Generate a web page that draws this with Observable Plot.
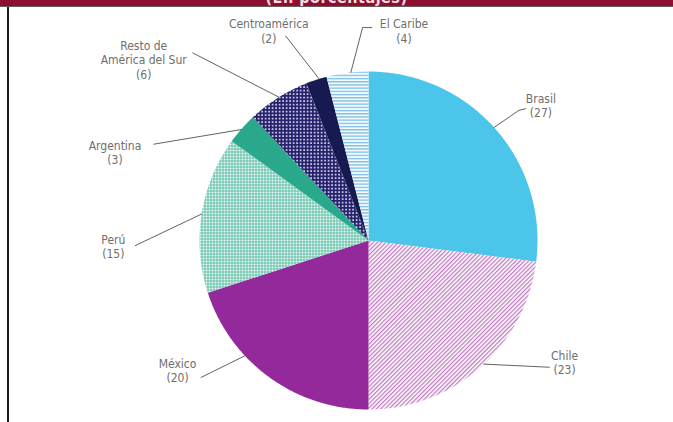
<!DOCTYPE html>
<html>
<head>
<meta charset="utf-8">
<script src="https://cdn.jsdelivr.net/npm/d3@7"></script>
<script src="https://cdn.jsdelivr.net/npm/@observablehq/plot@0.6"></script>
<style>
  html, body { margin: 0; padding: 0; background: #fff; }
  body { width: 673px; height: 422px; overflow: hidden; position: relative; }
  #band { height: 7px; background: #8d0f30; overflow: hidden; position: relative; border-bottom: 1px solid #6a5a5e; box-sizing: border-box; }
  #band span { position: absolute; left: 0; right: 0; top: -10px; text-align: center; color: #f4dde3;
    font: bold 16px "Liberation Sans Narrow", "DejaVu Sans Condensed", "Roboto", sans-serif; letter-spacing: 0.5px; line-height: 16px; }
  #edge { position: absolute; left: 7px; top: 7px; width: 2px; height: 415px; background: #1a1a1a; }
  #chart svg { display: block; }
</style>
</head>
<body>
<div id="band"><span>(En porcentajes)</span></div>
<div id="edge"></div>
<div id="chart"></div>
<script>
// ---- data ----
const regiones = ["Brasil", "Chile", "México", "Perú", "Argentina", "Resto de América del Sur", "Centroamérica", "El Caribe"];
const porcentajes = [27, 23, 20, 15, 3, 6, 2, 4];
const etiquetas = ["Brasil", "Chile", "México", "Perú", "Argentina", "Resto de\nAmérica del Sur", "Centroamérica", "El Caribe"];

// ---- style ----
const rellenos = ["#4cc5ea", "url(#pChile)", "#93299a", "url(#pPeru)", "#2aa88c", "url(#pResto)", "#161a50", "url(#pCaribe)"];

// ---- label layout (data units of the pie, radius = 1) ----
const labelPos = [[1.02, 0.80], [1.16, -0.72], [-1.13, -0.77], [-1.51, -0.035], [-1.5, 0.52], [-1.33, 1.07], [-0.59, 1.24], [0.21, 1.24]];
const leaderStart = [[0.93, 0.78], [1.07, -0.75], [-0.99, -0.81], [-1.38, -0.03], [-1.27, 0.57], [-1.04, 1.11], [-0.49, 1.21], [0.02, 1.26]];
const leaderElbow = [[0.89, 0.77], null, null, null, null, null, null, [-0.035, 1.26]];
const leaderAngle = [48, 137, 227, 279, 311, 328, 343, 354];

// ---- geometry from values ----
const pie = d3.pie().sort(null).value(d => d.v).startAngle(0).endAngle(2 * Math.PI);
const arcs = pie(regiones.map((r, i) => ({r, v: porcentajes[i]})));
const slicePts = [];
arcs.forEach(a => {
  const name = a.data.r;
  slicePts.push({name, x: 0, y: 0});
  const n = Math.max(2, Math.ceil((a.endAngle - a.startAngle) / (Math.PI / 360)));
  for (let k = 0; k <= n; k++) {
    const t = a.startAngle + (a.endAngle - a.startAngle) * k / n;
    slicePts.push({name, x: Math.sin(t), y: Math.cos(t)});
  }
  slicePts.push({name, x: 0, y: 0});
});

const labels = regiones.map((r, i) => ({name: r, text: etiquetas[i] + "\n(" + porcentajes[i] + ")", x: labelPos[i][0], y: labelPos[i][1]}));
const leaders = [];
regiones.forEach((r, i) => {
  leaders.push({name: r, x: leaderStart[i][0], y: leaderStart[i][1]});
  if (leaderElbow[i]) leaders.push({name: r, x: leaderElbow[i][0], y: leaderElbow[i][1]});
  const t = leaderAngle[i] * Math.PI / 180;
  leaders.push({name: r, x: Math.sin(t), y: Math.cos(t)});
});

const font = "'Liberation Sans Narrow', 'DejaVu Sans Condensed', 'Roboto', sans-serif";

const svg = Plot.plot({
  width: 673,
  height: 415,
  margin: 0,
  style: {background: "transparent", overflow: "visible"},
  x: {domain: [-1, 1], range: [199, 537], axis: null},
  y: {domain: [-1, 1], range: [402, 64], axis: null},
  color: {domain: regiones, range: rellenos},
  marks: [
    Plot.line(slicePts, {x: "x", y: "y", z: "name", fill: "name", stroke: "none", curve: "linear"}),
    Plot.line(leaders, {x: "x", y: "y", z: "name", stroke: "#3a3a3a", strokeWidth: 0.8, curve: "linear"}),
    Plot.text(labels, {x: "x", y: "y", text: "text", fill: "#6e6e6e", fontSize: 12, lineHeight: 1.2, fontFamily: font, textAnchor: "middle"})
  ]
});

// pattern fills
const defs = d3.select(svg).insert("defs", ":first-child");
const pc = defs.append("pattern").attr("id", "pChile").attr("patternUnits", "userSpaceOnUse")
  .attr("width", 3).attr("height", 10).attr("patternTransform", "rotate(45)");
pc.append("rect").attr("width", 3).attr("height", 10).attr("fill", "#fff");
pc.append("rect").attr("width", 1.3).attr("height", 10).attr("fill", "#c07ac0");

const pp = defs.append("pattern").attr("id", "pPeru").attr("patternUnits", "userSpaceOnUse").attr("width", 3).attr("height", 3);
pp.append("rect").attr("width", 3).attr("height", 3).attr("fill", "#eef8f5");
pp.append("rect").attr("width", 3).attr("height", 1).attr("fill", "#5fc0a6");
pp.append("rect").attr("width", 1).attr("height", 3).attr("fill", "#5fc0a6");

const pr = defs.append("pattern").attr("id", "pResto").attr("patternUnits", "userSpaceOnUse").attr("width", 3.5).attr("height", 3.5);
pr.append("rect").attr("width", 3.5).attr("height", 3.5).attr("fill", "#c9c0e4");
pr.append("rect").attr("width", 3.5).attr("height", 1.7).attr("fill", "#23226a");
pr.append("rect").attr("width", 1.7).attr("height", 3.5).attr("fill", "#23226a");

const pk = defs.append("pattern").attr("id", "pCaribe").attr("patternUnits", "userSpaceOnUse").attr("width", 4).attr("height", 3.2);
pk.append("rect").attr("width", 4).attr("height", 3.2).attr("fill", "#f4f9fd");
pk.append("rect").attr("width", 4).attr("height", 1.3).attr("fill", "#7fbde6");

document.getElementById("chart").appendChild(svg);
</script>
</body>
</html>
